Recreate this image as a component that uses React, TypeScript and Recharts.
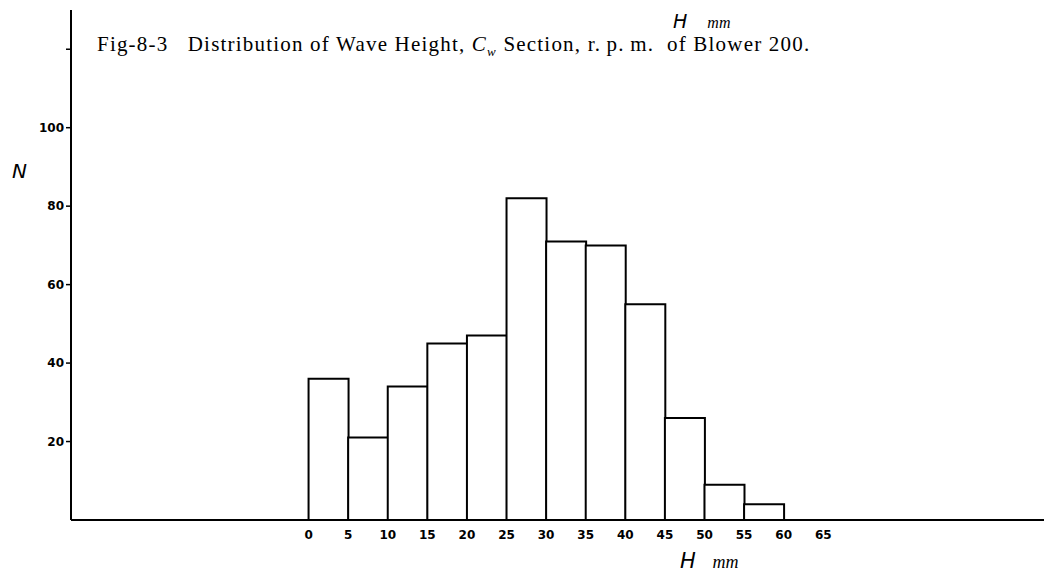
import { BarChart, Bar, XAxis, YAxis } from "recharts";

// wave height bins (mm), plotted at bin centres
const binCentre = [2.5, 7.5, 12.5, 17.5, 22.5, 27.5, 32.5, 37.5, 42.5, 47.5, 52.5, 57.5];
const counts = [36, 21, 34, 45, 47, 82, 71, 70, 55, 26, 9, 4];
const xTicks = [0, 5, 10, 15, 20, 25, 30, 35, 40, 45, 50, 55, 60, 65];
const yTicks = [20, 40, 60, 80, 100, 120];

const data = binCentre.map((h, i) => ({ h, n: counts[i] }));

const tickFont = {
  fill: "#000",
  fontSize: 12,
  fontWeight: 700,
  fontFamily: "DejaVu Sans, sans-serif",
};

export default function App() {
  return (
    <div style={{ position: "relative", width: 1044, height: 577, background: "#fff" }}>
      <div
        style={{
          position: "absolute",
          left: 665,
          top: 4,
          height: 19,
          lineHeight: "19px",
          fontFamily: "DejaVu Sans, sans-serif",
          fontStyle: "italic",
          fontSize: 19,
          whiteSpace: "nowrap",
        }}
      >
        H <span style={{ fontSize: 16, marginLeft: 14, fontFamily: "Liberation Serif, serif" }}>mm</span>
      </div>
      <div
        style={{
          position: "absolute",
          left: 89,
          top: 26,
          height: 21,
          lineHeight: "21px",
          fontFamily: "Liberation Serif, serif",
          fontSize: 21,
          whiteSpace: "nowrap",
          letterSpacing: 1.2,
        }}
      >
        Fig-8-3&nbsp;&nbsp; Distribution of Wave Height, <i>C</i>
        <span style={{ fontSize: 13, fontStyle: "italic", position: "relative", top: 5 }}>w</span> Section, r.&thinsp;p.&thinsp;m.&nbsp; of Blower 200.
      </div>
      <div
        style={{
          position: "absolute",
          left: 4,
          top: 151,
          fontFamily: "DejaVu Sans, sans-serif",
          fontStyle: "italic",
          fontSize: 20,
        }}
      >
        N
      </div>
      <div
        style={{
          position: "absolute",
          left: 672,
          top: 541,
          fontFamily: "DejaVu Sans, sans-serif",
          fontStyle: "italic",
          fontSize: 21,
          whiteSpace: "nowrap",
        }}
      >
        H <span style={{ fontSize: 18, marginLeft: 10, fontFamily: "Liberation Serif, serif" }}>mm</span>
      </div>
      <BarChart
        width={1044}
        height={577}
        data={data}
        margin={{ top: 2, right: 7, left: 23, bottom: 35 }}
        barCategoryGap={0}
        barGap={0}
      >
        <XAxis
          dataKey="h"
          type="number"
          domain={[-30, 93]}
          ticks={xTicks}
          interval={0}
          tickLine={false}
          axisLine={{ stroke: "#000", strokeWidth: 2 }}
          tick={tickFont}
          tickMargin={4}
          height={30}
          allowDataOverflow
        />
        <YAxis
          type="number"
          domain={[0, 130]}
          ticks={yTicks}
          interval={0}
          width={40}
          axisLine={{ stroke: "#000", strokeWidth: 2 }}
          tickLine={{ stroke: "#000", strokeWidth: 1.5 }}
          tickSize={5}
          tickMargin={2}
          tick={tickFont}
          tickFormatter={(v: number) => (v === 120 ? "" : String(v))}
          allowDataOverflow
        />
        <Bar dataKey="n" fill="#fff" stroke="#000" strokeWidth={2} isAnimationActive={false} />
      </BarChart>
    </div>
  );
}
